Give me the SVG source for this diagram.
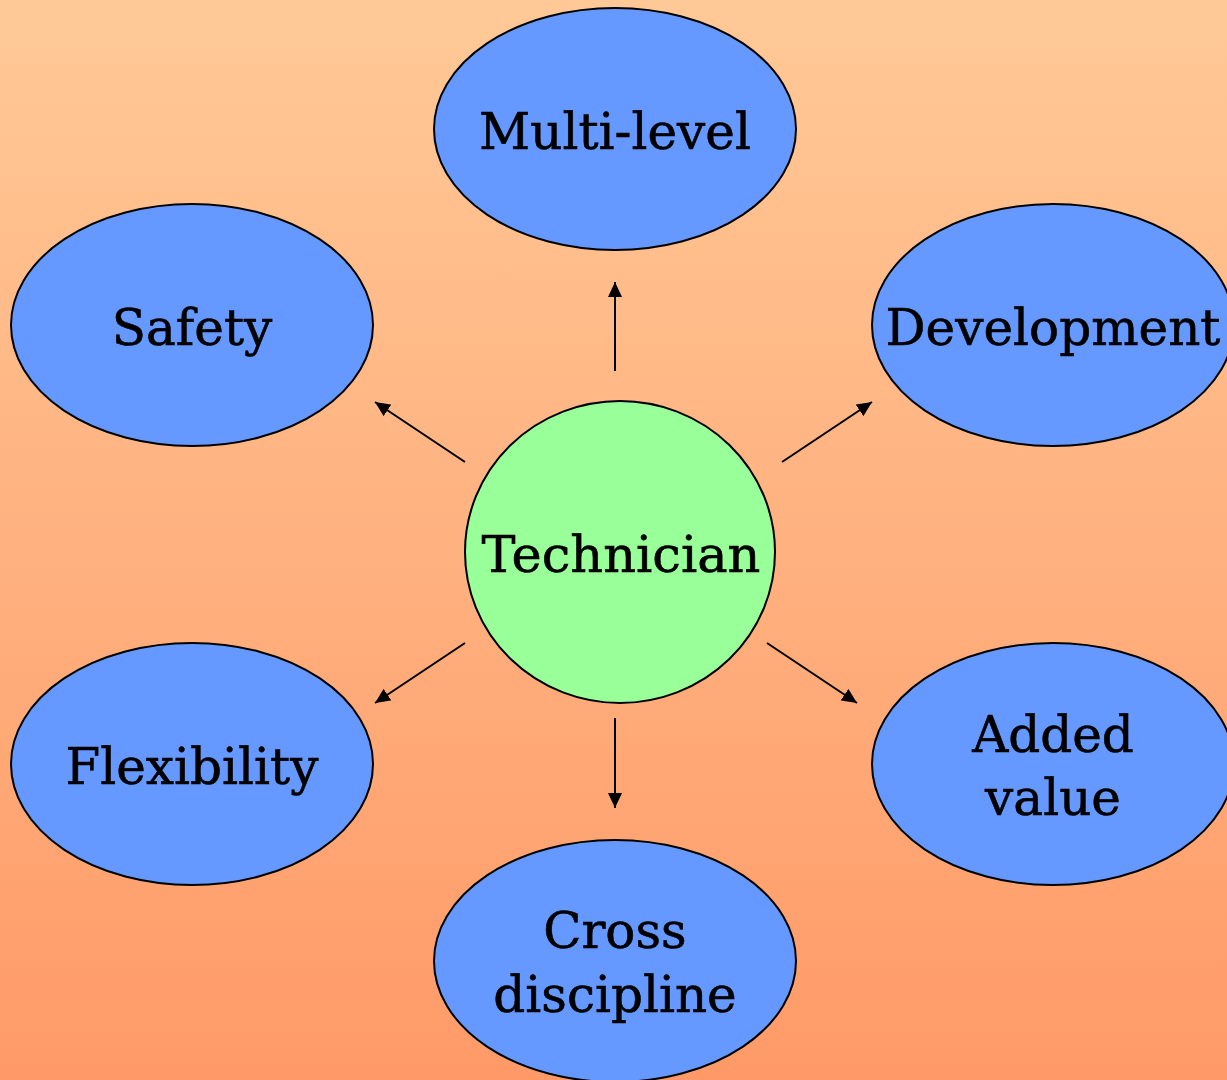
<svg xmlns="http://www.w3.org/2000/svg" width="1227" height="1080" viewBox="0 0 1227 1080">
<defs>
<linearGradient id="bg" x1="0" y1="0" x2="0" y2="1">
<stop offset="0" stop-color="#FFC997"/>
<stop offset="1" stop-color="#FF9A68"/>
</linearGradient>
<marker id="ah" viewBox="0 0 15 14" refX="15" refY="7" markerWidth="15" markerHeight="14" markerUnits="userSpaceOnUse" orient="auto">
<path d="M0,0 L15,7 L0,14 z" fill="#000"/>
</marker>
</defs>
<style>
.n{fill:#6699FF;stroke:#000;stroke-width:2}
.c{fill:#99FF99;stroke:#000;stroke-width:2}
.t{font-family:"DejaVu Serif",serif;font-size:50px;fill:#000;stroke:#000;stroke-width:0.6;text-anchor:middle}
.a{stroke:#000;stroke-width:2;fill:none}
</style>
<rect width="1227" height="1080" fill="url(#bg)"/>
<g id="connectors">
<line class="a" x1="615" y1="371" x2="615" y2="282" marker-end="url(#ah)"/>
<line class="a" x1="465" y1="462" x2="375" y2="402" marker-end="url(#ah)"/>
<line class="a" x1="782" y1="462" x2="872" y2="402" marker-end="url(#ah)"/>
<line class="a" x1="465" y1="643" x2="375" y2="703" marker-end="url(#ah)"/>
<line class="a" x1="767" y1="643" x2="857" y2="703" marker-end="url(#ah)"/>
<line class="a" x1="615" y1="718" x2="615" y2="808" marker-end="url(#ah)"/>
</g>
<g id="multilevel"><ellipse class="n" cx="615" cy="129" rx="181" ry="121"/><text class="t" x="615" y="149">Multi-level</text></g>
<g id="safety"><ellipse class="n" cx="192" cy="325" rx="181" ry="121"/><text class="t" x="192" y="345">Safety</text></g>
<g id="development"><ellipse class="n" cx="1053" cy="325" rx="181" ry="121"/><text class="t" x="1053" y="345">Development</text></g>
<g id="technician"><ellipse class="c" cx="620" cy="552" rx="155" ry="151"/><text class="t" x="621" y="572" style="font-size:51px">Technician</text></g>
<g id="flexibility"><ellipse class="n" cx="192" cy="764" rx="181" ry="121"/><text class="t" x="192" y="784">Flexibility</text></g>
<g id="addedvalue"><ellipse class="n" cx="1053" cy="764" rx="181" ry="121"/><text class="t" x="1053" y="752">Added</text><text class="t" x="1053" y="815">value</text></g>
<g id="crossdiscipline"><ellipse class="n" cx="615" cy="961" rx="181" ry="121"/><text class="t" x="615" y="948">Cross</text><text class="t" x="615" y="1012">discipline</text></g>
</svg>
